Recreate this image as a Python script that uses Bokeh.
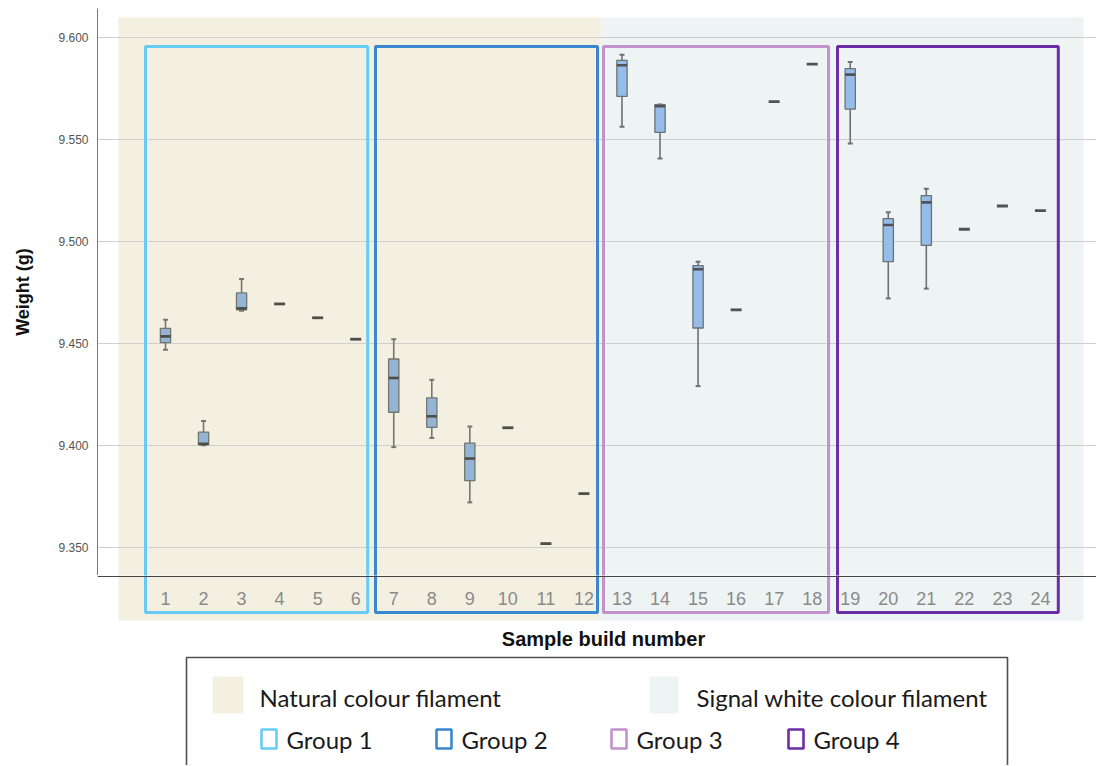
import math
from bokeh.plotting import figure
from bokeh.models import Range1d, LinearAxis, FixedTicker, NumeralTickFormatter, ColumnDataSource, Grid
from bokeh.layouts import column
from bokeh.embed import file_html
from bokeh.resources import INLINE
from bokeh.core.properties import value

# ---------------- data ----------------
samples = list(range(1, 25))
tick_labels = [str(s) for s in samples]

box_samples = [1, 2, 3, 7, 8, 9, 13, 14, 15, 19, 20, 21]
box_low    = [9.4469, 9.4001, 9.4661, 9.3992, 9.4037, 9.3721, 9.5562, 9.5407, 9.4291, 9.5481, 9.4721, 9.4769]
box_q1     = [9.4504, 9.4004, 9.4665, 9.4163, 9.4089, 9.3828, 9.5711, 9.5535, 9.4576, 9.5649, 9.4901, 9.4981]
box_median = [9.4535, 9.4008, 9.4672, 9.4331, 9.4143, 9.3936, 9.5864, 9.5663, 9.4864, 9.5818, 9.5081, 9.5192]
box_q3     = [9.4574, 9.4066, 9.4748, 9.4424, 9.4233, 9.4012, 9.5888, 9.5671, 9.4882, 9.5847, 9.5112, 9.5225]
box_high   = [9.4616, 9.4120, 9.4816, 9.4521, 9.4322, 9.4093, 9.5915, 9.5671, 9.4901, 9.5880, 9.5143, 9.5258]

single_samples = [4, 5, 6, 10, 11, 12, 16, 17, 18, 22, 23, 24]
single_values  = [9.4694, 9.4626, 9.4521, 9.4087, 9.3519, 9.3764, 9.4665, 9.5686, 9.5870, 9.5060, 9.5174, 9.5151]

y_ticks = [9.35, 9.40, 9.45, 9.50, 9.55, 9.60]

filament_names = ["Natural colour filament", "Signal white colour filament"]
filament_last = [12, 24]

group_names = ["Group 1", "Group 2", "Group 3", "Group 4"]
group_first = [1, 7, 13, 19]
group_last = [6, 12, 18, 24]

# ---------------- styles / layout ----------------
FIL_COLORS = ["#f4f0e1", "#eef3f3"]
GROUP_COLORS = ["#66ccf5", "#3b87cf", "#c292cc", "#6c2ea6"]
BOX_FILL = {0: "#93b4d4", 1: "#96bdea"}
BOX_LINE = {0: "#767670", 1: "#6d7176"}
MED_COLOR = {0: "#4e4e46", 1: "#4f5256"}

W = 1096
LEFT = 97
TOP = 8
AXIS_PX = 575
BOTTOM_PX = 765
X_START, X_END = -0.7876, 25.474
Y_START, Y_END = 9.33627, 9.61422

x_range = Range1d(X_START, X_END)

# ---------------- main plot (above the x axis) ----------------
p = figure(width=W, height=AXIS_PX, output_backend="svg", toolbar_location=None,
           x_range=x_range, y_range=Range1d(Y_START, Y_END),
           x_axis_type=None, y_axis_type=None,
           min_border_left=LEFT, min_border_right=0, min_border_top=TOP, min_border_bottom=0)
p.outline_line_color = None

shade_left = [-0.235, 12.44]
shade_right = [12.44, 25.13]
p.quad(left=shade_left, right=shade_right, top=[9.6098] * 2, bottom=[Y_START - 0.02] * 2,
       fill_color=FIL_COLORS, line_color=None, level="underlay")

yaxis = LinearAxis(ticker=FixedTicker(ticks=y_ticks), formatter=NumeralTickFormatter(format="0.000"))
yaxis.axis_line_color = "#7a7a7a"
yaxis.axis_line_width = 1
yaxis.major_tick_line_color = None
yaxis.minor_tick_line_color = None
yaxis.major_tick_out = 0
yaxis.major_label_standoff = 9
yaxis.major_label_text_font = "Liberation Sans"
yaxis.major_label_text_font_size = "12px"
yaxis.major_label_text_color = "#555555"
yaxis.axis_label = "Weight (g)"
yaxis.axis_label_text_font = "Liberation Sans"
yaxis.axis_label_text_font_style = "bold"
yaxis.axis_label_text_font_size = "18px"
yaxis.axis_label_text_color = "#111111"
yaxis.axis_label_standoff = 22
p.add_layout(yaxis, "left")

g = Grid(dimension=1, ticker=FixedTicker(ticks=y_ticks), grid_line_color="#cfcfcf", grid_line_width=1)
p.add_layout(g, "center")

side = [0 if s <= filament_last[0] else 1 for s in box_samples]
bsrc = ColumnDataSource(dict(x=box_samples, low=box_low, q1=box_q1, med=box_median, q3=box_q3, high=box_high,
                             fill=[BOX_FILL[k] for k in side], line=[BOX_LINE[k] for k in side],
                             mc=[MED_COLOR[k] for k in side],
                             xl=[s - 0.065 for s in box_samples], xr=[s + 0.065 for s in box_samples],
                             ml=[s - 0.135 for s in box_samples], mr=[s + 0.135 for s in box_samples]))
p.segment(x0="x", y0="q3", x1="x", y1="high", source=bsrc, line_color="line", line_width=1.6)
p.segment(x0="x", y0="low", x1="x", y1="q1", source=bsrc, line_color="line", line_width=1.6)
p.segment(x0="xl", y0="high", x1="xr", y1="high", source=bsrc, line_color="line", line_width=2)
p.segment(x0="xl", y0="low", x1="xr", y1="low", source=bsrc, line_color="line", line_width=2)
p.vbar(x="x", top="q3", bottom="q1", width=0.27, source=bsrc, fill_color="fill", line_color="line", line_width=1.3)
p.segment(x0="ml", y0="med", x1="mr", y1="med", source=bsrc, line_color="mc", line_width=2.6)

sside = [0 if s <= filament_last[0] else 1 for s in single_samples]
ssrc = ColumnDataSource(dict(x0=[s - 0.145 for s in single_samples], x1=[s + 0.145 for s in single_samples],
                             y=single_values, c=[MED_COLOR[k] for k in sside]))
p.segment(x0="x0", y0="y", x1="x1", y1="y", source=ssrc, line_color="c", line_width=2.8)

g_left = [f - o for f, o in zip(group_first, [0.526, 0.48, 0.486, 0.334])]
g_right = [l + o for l, o in zip(group_last, [0.315, 0.357, 0.43, 0.47])]
p.quad(left=g_left, right=g_right, top=[9.5956] * 4, bottom=[Y_START - 0.05] * 4,
       fill_color=None, line_color=GROUP_COLORS, line_width=3)

# ---------------- lower part: x axis, axis title, legend ----------------
p2 = figure(width=W, height=BOTTOM_PX - AXIS_PX, output_backend="svg", toolbar_location=None,
            x_range=x_range, y_range=Range1d(BOTTOM_PX, AXIS_PX),
            x_axis_type=None, y_axis_type=None,
            min_border_left=LEFT, min_border_right=0, min_border_top=0, min_border_bottom=0)
p2.outline_line_color = None
p2.extra_x_ranges = {"px": Range1d(LEFT, W)}

p2.quad(left=shade_left, right=shade_right, top=[AXIS_PX - 10] * 2, bottom=[620] * 2,
        fill_color=FIL_COLORS, line_color=None, level="underlay")
p2.quad(left=g_left, right=g_right, top=[AXIS_PX - 30] * 4, bottom=[612] * 4,
        fill_color=None, line_color=GROUP_COLORS, line_width=3)

xaxis = LinearAxis(ticker=FixedTicker(ticks=samples), fixed_location=AXIS_PX + 0.5,
                   major_label_overrides={s: t for s, t in zip(samples, tick_labels)})
xaxis.axis_line_color = "#444444"
xaxis.axis_line_width = 1
xaxis.major_tick_line_color = None
xaxis.minor_tick_line_color = None
xaxis.major_tick_out = 0
xaxis.major_label_standoff = 16
xaxis.major_label_text_font = "Liberation Sans"
xaxis.major_label_text_font_size = "18px"
xaxis.major_label_text_color = "#8a8a8a"
p2.add_layout(xaxis, "below")

p2.text(x=[603], y=[638], text=["Sample build number"], x_range_name="px",
        text_font=value("Liberation Sans"), text_font_style="bold", text_font_size=value("20px"),
        text_align="center", text_baseline="middle", text_color="#111111")

# legend
p2.quad(left=[186], right=[1007], top=[657], bottom=[800], x_range_name="px",
        fill_color=None, line_color="#505050", line_width=1.6)
p2.quad(left=[212, 649], right=[243, 678], top=[676, 676], bottom=[713, 713], x_range_name="px",
        fill_color=FIL_COLORS, line_color=None)
p2.text(x=[259, 696], y=[697, 697], text=filament_names, x_range_name="px", text_font=value("Lato"),
        text_font_size=value("24px"), text_baseline="middle", text_color="#1a1a1a")
gx = [261, 436, 611, 788]
p2.quad(left=gx, right=[x + 15 for x in gx], top=[729] * 4, bottom=[748] * 4, x_range_name="px",
        fill_color=None, line_color=GROUP_COLORS, line_width=2.6)
p2.text(x=[x + 25 for x in gx], y=[739] * 4, text=group_names, x_range_name="px", text_font=value("Lato"),
        text_font_size=value("24px"), text_baseline="middle", text_color="#1a1a1a")

layout = column(p, p2, spacing=0)
open("out.html", "w").write(file_html(layout, INLINE))
